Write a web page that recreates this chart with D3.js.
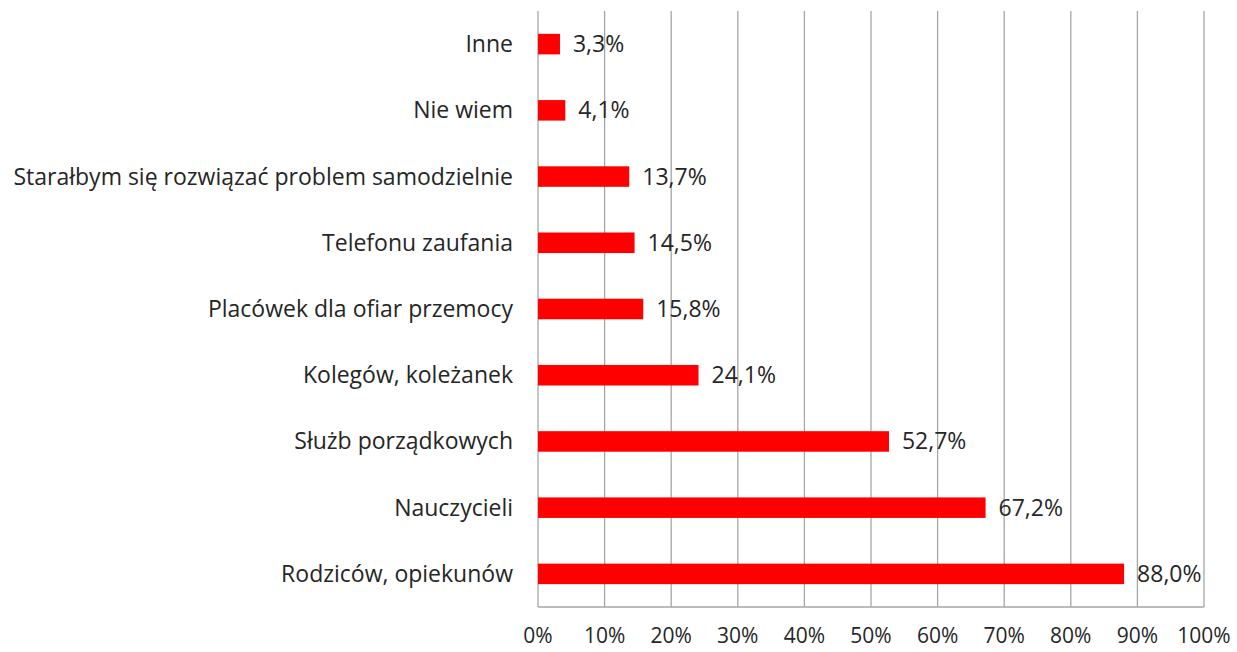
<!DOCTYPE html>
<html lang="pl">
<head>
    <meta charset="UTF-8">
    <title>Wykres słupkowy</title>
    <script src="https://d3js.org/d3.v7.min.js"></script>
    <style>
        body { margin: 0; padding: 0; background-color: #fff; overflow: hidden; }
        svg text { font-family: "Open Sans", "Noto Sans", sans-serif; fill: #262626; }
    </style>
</head>
<body>
    <div id="chart"></div>
    <script>
        // Categories from top to bottom
        const categories = [
            "Inne",
            "Nie wiem",
            "Starałbym się rozwiązać problem samodzielnie",
            "Telefonu zaufania",
            "Placówek dla ofiar przemocy",
            "Kolegów, koleżanek",
            "Służb porządkowych",
            "Nauczycieli",
            "Rodziców, opiekunów"
        ];
        const values = [3.3, 4.1, 13.7, 14.5, 15.8, 24.1, 52.7, 67.2, 88.0];
        const ticks = [0, 10, 20, 30, 40, 50, 60, 70, 80, 90, 100];

        const W = 1237, H = 652;
        const margin = { top: 11, right: 33, bottom: 45, left: 538 };
        const width = W - margin.left - margin.right,
              height = H - margin.top - margin.bottom;

        const svg = d3.select("#chart").append("svg")
            .attr("width", W)
            .attr("height", H);

        const g = svg.append("g")
            .attr("transform", `translate(${margin.left},${margin.top})`);

        const x = d3.scaleLinear().domain([0, 100]).range([0, width]);
        const y = d3.scaleBand().domain(categories).range([0, height]).paddingInner(0.69).paddingOuter(0.345);

        // vertical gridlines
        g.selectAll(".grid").data(ticks).enter().append("line")
            .attr("x1", d => x(d)).attr("x2", d => x(d))
            .attr("y1", 0).attr("y2", height)
            .style("stroke", "#a6a6a6").style("stroke-width", 1.3);

        // bottom axis line
        g.append("line")
            .attr("x1", 0).attr("x2", width)
            .attr("y1", height).attr("y2", height)
            .style("stroke", "#a6a6a6").style("stroke-width", 1.3);

        // x tick labels
        g.selectAll(".xt").data(ticks).enter().append("text")
            .attr("x", d => x(d))
            .attr("y", height + 36)
            .attr("text-anchor", "middle")
            .style("font-size", "21px")
            .text(d => d + "%");

        // bars
        g.selectAll(".bar").data(values).enter().append("rect")
            .attr("x", 0)
            .attr("y", (d, i) => y(categories[i]))
            .attr("width", d => x(d))
            .attr("height", y.bandwidth())
            .style("fill", "#ff0000");

        // value labels
        g.selectAll(".val").data(values).enter().append("text")
            .attr("x", d => x(d) + 13)
            .attr("y", (d, i) => y(categories[i]) + y.bandwidth() / 2)
            .attr("dy", "0.35em")
            .style("font-size", "23px")
            .text(d => d.toFixed(1).replace(".", ",") + "%");

        // category labels
        g.selectAll(".cat").data(categories).enter().append("text")
            .attr("x", -25)
            .attr("y", d => y(d) + y.bandwidth() / 2)
            .attr("dy", "0.35em")
            .attr("text-anchor", "end")
            .style("font-size", "23px")
            .text(d => d);
    </script>
</body>
</html>
